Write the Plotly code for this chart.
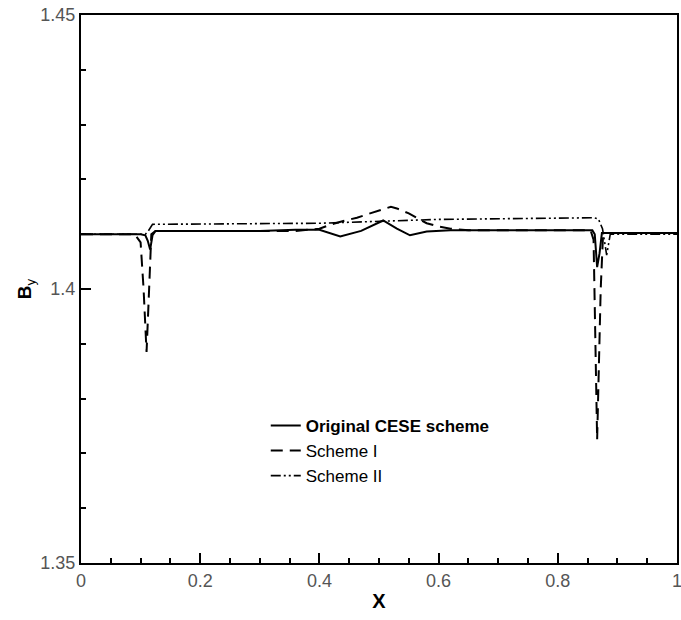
import plotly.graph_objects as go

# Original CESE scheme
x_orig = [0.0, 0.10, 0.108, 0.112, 0.116, 0.120, 0.125, 0.30, 0.36, 0.40, 0.435, 0.47, 0.507,
          0.53, 0.552, 0.58, 0.62, 0.66, 0.858, 0.862, 0.866, 0.870, 0.874, 1.0]
y_orig = [1.4100, 1.4100, 1.4098, 1.4088, 1.4072, 1.4098, 1.4106, 1.4106, 1.4108, 1.4108,
          1.4096, 1.4106, 1.4125, 1.4110, 1.4098, 1.4105, 1.4107, 1.4107, 1.4107, 1.4100,
          1.4040, 1.4065, 1.4102, 1.4102]

# Scheme I
x_s1 = [0.0, 0.090, 0.100, 0.105, 0.110, 0.114, 0.118, 0.125, 0.36, 0.40, 0.42, 0.44, 0.463,
        0.485, 0.507, 0.52, 0.53, 0.55, 0.563, 0.58, 0.60, 0.62, 0.65, 0.855, 0.860, 0.866,
        0.872, 0.876, 1.0]
y_s1 = [1.4100, 1.4100, 1.4085, 1.4000, 1.3885, 1.4000, 1.4100, 1.4106, 1.4106, 1.4110,
        1.4118, 1.4124, 1.4130, 1.4138, 1.4146, 1.4150, 1.4147, 1.4138, 1.4130, 1.4120,
        1.4114, 1.4110, 1.4107, 1.4107, 1.4090, 1.3725, 1.4000, 1.4102, 1.4102]

# Scheme II
x_s2 = [0.0, 0.108, 0.113, 0.120, 0.40, 0.50, 0.60, 0.860, 0.868, 0.875, 0.882, 0.888, 1.0]
y_s2 = [1.4100, 1.4100, 1.4106, 1.4118, 1.4120, 1.4124, 1.4127, 1.4130, 1.4128, 1.4110,
        1.4062, 1.4100, 1.4100]

x_ticks = [0, 0.2, 0.4, 0.6, 0.8, 1]
x_tick_labels = ["0", "0.2", "0.4", "0.6", "0.8", "1"]
y_ticks = [1.35, 1.4, 1.45]
y_tick_labels = ["1.35", "1.4", "1.45"]

names = ["<b>Original CESE scheme</b>", "Scheme I", "Scheme II"]

fig = go.Figure()
fig.add_trace(go.Scatter(x=x_orig, y=y_orig, mode="lines", name=names[0],
                         line=dict(color="black", width=2)))
fig.add_trace(go.Scatter(x=x_s1, y=y_s1, mode="lines", name=names[1],
                         line=dict(color="black", width=2, dash="12px,7px")))
fig.add_trace(go.Scatter(x=x_s2, y=y_s2, mode="lines", name=names[2],
                         line=dict(color="black", width=1.6, dash="10px,3px,2px,3px,2px,3px")))

axis_common = dict(
    showgrid=False, zeroline=False, showline=True, linecolor="black", linewidth=2,
    mirror=True, ticks="inside", ticklen=10, tickwidth=1.5, tickcolor="black",
    automargin=False, ticklabeloverflow="allow",
    tickfont=dict(family="Liberation Sans, Arial", size=18, color="#555555"),
)

fig.update_layout(
    width=681, height=620,
    margin=dict(l=81, r=4, t=15, b=57),
    paper_bgcolor="white", plot_bgcolor="white",
    showlegend=True,
    legend=dict(x=0.31, y=0.283, xanchor="left", yanchor="top",
                bgcolor="rgba(0,0,0,0)", tracegroupgap=0,
                font=dict(family="Liberation Sans, Arial", size=17, color="black")),
    xaxis=dict(range=[0, 1], tickvals=x_ticks, ticktext=x_tick_labels,
               minor=dict(dtick=0.05, ticks="inside", ticklen=5, tickcolor="black"),
               title=dict(text="<b>X</b>", standoff=4,
                          font=dict(family="Liberation Sans, Arial", size=20, color="black")),
               **axis_common),
    yaxis=dict(range=[1.35, 1.45], tickvals=y_ticks, ticktext=y_tick_labels,
               minor=dict(dtick=0.01, ticks="inside", ticklen=5, tickcolor="black"),
               title=dict(text="<b>B</b><sub>y</sub>", standoff=4,
                          font=dict(family="Liberation Sans, Arial", size=19, color="black")),
               **axis_common),
)

fig.write_html(
    "out.html",
    config={"displayModeBar": False},
    post_script="document.body.style.margin='0';document.documentElement.style.overflow='hidden';",
)
